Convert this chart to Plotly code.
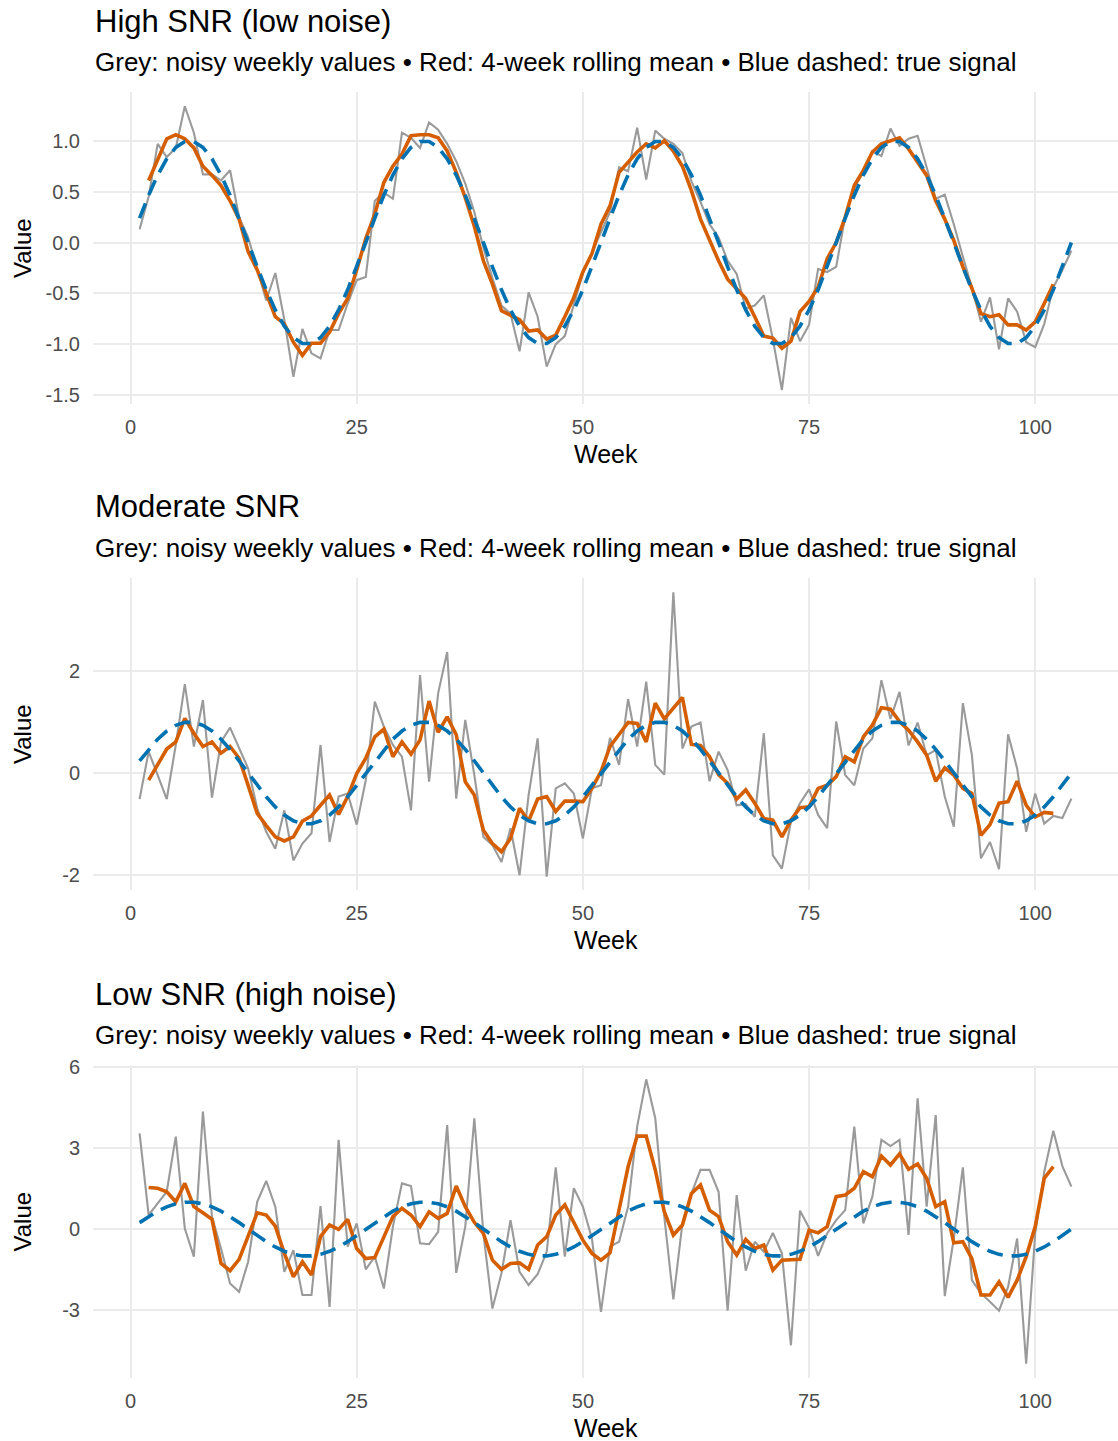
import plotly.graph_objects as go

weeks = list(range(1, 105))

true_signal = [
    0.239, 0.465, 0.663, 0.823, 0.935, 0.993, 0.993, 0.935, 0.823, 0.663, 0.465, 0.239, 0.0,
    -0.239, -0.465, -0.663, -0.823, -0.935, -0.993, -0.993, -0.935, -0.823, -0.663, -0.465, -0.239, 0.0,
    0.239, 0.465, 0.663, 0.823, 0.935, 0.993, 0.993, 0.935, 0.823, 0.663, 0.465, 0.239, 0.0,
    -0.239, -0.465, -0.663, -0.823, -0.935, -0.993, -0.993, -0.935, -0.823, -0.663, -0.465, -0.239, 0.0,
    0.239, 0.465, 0.663, 0.823, 0.935, 0.993, 0.993, 0.935, 0.823, 0.663, 0.465, 0.239, 0.0,
    -0.239, -0.465, -0.663, -0.823, -0.935, -0.993, -0.993, -0.935, -0.823, -0.663, -0.465, -0.239, 0.0,
    0.239, 0.465, 0.663, 0.823, 0.935, 0.993, 0.993, 0.935, 0.823, 0.663, 0.465, 0.239, 0.0,
    -0.239, -0.465, -0.663, -0.823, -0.935, -0.993, -0.993, -0.935, -0.823, -0.663, -0.465, -0.239, 0.0,
]

# ---- High SNR ----
high_noisy = [
    0.13, 0.45, 0.97, 0.84, 0.93, 1.34, 1.08, 0.67, 0.67, 0.61,
    0.71, 0.25, 0.05, -0.27, -0.57, -0.30, -0.76, -1.32, -0.85, -1.09,
    -1.14, -0.86, -0.86, -0.60, -0.37, -0.34, 0.41, 0.49, 0.43, 1.08,
    1.03, 0.93, 1.18, 1.11, 0.97, 0.80, 0.58, 0.30, -0.05, -0.35,
    -0.62, -0.70, -1.07, -0.49, -0.73, -1.22, -1.00, -0.92, -0.62, -0.30,
    -0.10, 0.10, 0.30, 0.74, 0.70, 1.13, 0.62, 1.10, 1.02, 0.97,
    0.88, 0.60, 0.40, 0.18, 0.05, -0.18, -0.31, -0.65, -0.62, -0.52,
    -0.95, -1.45, -0.74, -0.97, -0.81, -0.26, -0.29, -0.24, 0.26, 0.54,
    0.69, 0.90, 0.85, 1.12, 0.95, 1.02, 1.05, 0.74, 0.43, 0.47,
    0.18, -0.14, -0.44, -0.78, -0.54, -1.05, -0.55, -0.68, -0.98, -1.03,
    -0.80, -0.44, -0.27, -0.08,
]
high_roll = [
    None, 0.61, 0.82, 1.02, 1.06, 1.02, 0.93, 0.75, 0.66, 0.56,
    0.41, 0.23, -0.09, -0.27, -0.50, -0.73, -0.80, -0.98, -1.11, -0.99,
    -0.99, -0.88, -0.70, -0.55, -0.27, 0.04, 0.28, 0.59, 0.75, 0.87,
    1.05, 1.06, 1.06, 1.03, 0.90, 0.69, 0.44, 0.16, -0.18, -0.41,
    -0.67, -0.72, -0.76, -0.87, -0.86, -0.95, -0.91, -0.73, -0.54, -0.29,
    -0.11, 0.18, 0.36, 0.69, 0.79, 0.89, 0.97, 0.93, 1.00, 0.90,
    0.75, 0.51, 0.23, 0.02, -0.18, -0.36, -0.45, -0.55, -0.73, -0.92,
    -0.94, -1.04, -0.97, -0.68, -0.58, -0.44, -0.16, 0.00, 0.25, 0.56,
    0.71, 0.89, 0.97, 1.00, 1.03, 0.92, 0.79, 0.66, 0.41, 0.23,
    0.02, -0.24, -0.45, -0.70, -0.73, -0.71, -0.81, -0.81, -0.86, -0.78,
    -0.60, -0.41, None, None,
]

# ---- Moderate SNR ----
mod_noisy = [
    -0.51, 0.42, -0.04, -0.51, 0.55, 1.74, 0.52, 1.43, -0.48, 0.61,
    0.89, 0.48, 0.09, -0.69, -1.15, -1.48, -0.73, -1.71, -1.38, -1.18,
    0.55, -1.35, -0.46, -0.40, -1.01, -0.14, 1.40, 0.91, 0.55, 0.32,
    -0.73, 1.92, -0.17, 1.56, 2.37, -0.50, 1.04, -0.04, -1.25, -1.41,
    -1.74, -1.08, -2.00, -0.43, 0.68, -2.03, -0.30, -0.20, -0.40, -1.28,
    -0.30, -0.24, 0.69, 0.16, 1.45, 0.52, 1.79, 0.16, -0.03, 3.54,
    0.48, 0.91, 0.99, -0.16, 0.42, 0.06, -0.63, -0.61, -0.86, 0.78,
    -1.61, -1.87, -0.95, -0.59, -0.32, -0.82, -1.08, 1.01, -0.04, -0.24,
    0.48, 0.68, 1.82, 1.06, 1.59, 0.54, 0.99, 0.35, 0.45, -0.46,
    -1.05, 1.37, 0.35, -1.67, -1.35, -1.88, 0.76, 0.09, -1.15, -0.40,
    -0.99, -0.84, -0.88, -0.50,
]
mod_roll = [
    None, -0.14, 0.16, 0.47, 0.61, 1.07, 0.78, 0.52, 0.61, 0.39,
    0.52, 0.29, -0.24, -0.79, -1.03, -1.25, -1.33, -1.25, -0.94, -0.84,
    -0.63, -0.43, -0.81, -0.46, -0.01, 0.29, 0.71, 0.86, 0.32, 0.61,
    0.37, 0.65, 1.41, 0.80, 1.10, 0.75, -0.17, -0.43, -1.12, -1.38,
    -1.54, -1.28, -0.69, -0.94, -0.51, -0.46, -0.75, -0.55, -0.55, -0.56,
    -0.30, 0.03, 0.52, 0.76, 0.99, 0.97, 0.61, 1.37, 1.06, 1.27,
    1.48, 0.56, 0.54, 0.32, -0.03, -0.20, -0.51, -0.33, -0.59, -0.89,
    -0.92, -1.25, -0.92, -0.68, -0.66, -0.30, -0.24, -0.07, 0.32, 0.22,
    0.71, 0.94, 1.28, 1.25, 1.01, 0.84, 0.61, 0.35, -0.16, 0.10,
    -0.04, -0.30, -0.40, -1.22, -1.01, -0.59, -0.56, -0.16, -0.63, -0.86,
    -0.77, -0.79, None, None,
]

# ---- Low SNR ----
low_noisy = [
    3.54, 0.52, 0.95, 1.38, 3.42, 0.02, -1.02, 4.35, 0.46, -0.72,
    -2.01, -2.32, -1.21, 1.01, 1.78, 0.83, -1.58, -0.78, -2.44, -2.44,
    0.85, -2.88, 3.30, -0.65, 0.21, -1.49, -1.02, -2.20, 0.09, 1.69,
    1.59, -0.53, -0.56, -0.10, 3.85, -1.62, 0.09, 4.10, -0.16, -2.94,
    -1.64, 0.33, -1.58, -2.07, -1.67, -0.84, 2.28, -1.02, 1.51, 0.83,
    -0.35, -3.06, -0.65, -0.47, 0.83, 3.79, 5.54, 4.10, 0.46, -2.60,
    0.21, 1.32, 2.19, 2.19, 1.38, -3.02, 1.26, -1.54, -0.47, -0.84,
    -0.14, -0.90, -4.30, 0.68, 0.05, -0.99, -0.16, 0.33, 0.70, 3.79,
    0.21, 1.20, 3.30, 3.07, 3.30, -0.22, 4.84, 0.83, 4.22, -2.48,
    -0.35, 2.28, -1.89, -2.38, -2.69, -3.02, -2.14, -0.35, -4.98, -0.16,
    2.12, 3.64, 2.33, 1.57,
]
low_roll = [
    None, 1.54, 1.51, 1.38, 1.01, 1.69, 0.83, 0.60, 0.36, -1.27,
    -1.54, -1.12, -0.28, 0.60, 0.52, 0.11, -0.90, -1.77, -1.21, -1.70,
    -0.28, 0.15, -0.01, 0.36, -0.72, -1.09, -1.05, -0.28, 0.46, 0.77,
    0.52, 0.09, 0.64, 0.40, 0.58, 1.59, 0.83, 0.25, -0.16, -1.15,
    -1.49, -1.27, -1.25, -1.49, -0.59, -0.28, 0.52, 0.89, 0.21, -0.41,
    -0.90, -1.15, -0.88, 0.64, 2.31, 3.44, 3.44, 2.19, 0.64, -0.22,
    0.15, 1.32, 1.63, 0.70, 0.46, -0.47, -0.96, -0.38, -0.72, -0.59,
    -1.52, -1.15, -1.12, -1.12, -0.04, -0.14, 0.09, 1.20, 1.26, 1.51,
    2.12, 1.94, 2.70, 2.37, 2.78, 2.21, 2.41, 1.88, 0.83, 1.01,
    -0.51, -0.47, -1.09, -2.44, -2.44, -1.95, -2.53, -1.89, -1.02, 0.09,
    1.88, 2.31, None, None,
]

titles = ["High SNR (low noise)", "Moderate SNR", "Low SNR (high noise)"]
subtitle = "Grey: noisy weekly values \u2022 Red: 4-week rolling mean \u2022 Blue dashed: true signal"
x_ticks = [0, 25, 50, 75, 100]
y_ticks = [[-1.5, -1.0, -0.5, 0.0, 0.5, 1.0], [-2, 0, 2], [-3, 0, 3, 6]]
y_ticktext = [["-1.5", "-1.0", "-0.5", "0.0", "0.5", "1.0"], ["-2", "0", "2"], ["-3", "0", "3", "6"]]
y_ranges = [[-1.588, 1.48], [-2.29, 3.82], [-5.51, 6.07]]

noisy_sets = [high_noisy, mod_noisy, low_noisy]
roll_sets = [high_roll, mod_roll, low_roll]

W, H = 1118, 1441
ML = 93
panel_px = [(92, 404), (578, 890), (1065, 1378)]  # top, bottom in pixels

FONT = "Liberation Sans, Arial, Helvetica, sans-serif"
GRID = "#EBEBEB"

fig = go.Figure()
layout = dict(
    width=W, height=H,
    margin=dict(l=ML, r=0, t=0, b=0),
    paper_bgcolor="white", plot_bgcolor="white",
    showlegend=False,
    font=dict(family=FONT, color="black"),
    template="none",
)
annotations = []

def py(px):
    return 1 - px / H

def pxx(px):
    return (px - ML) / (W - ML)

for i in range(3):
    xa = "x" if i == 0 else f"x{i+1}"
    ya = "y" if i == 0 else f"y{i+1}"
    top, bot = panel_px[i]
    fig.add_trace(go.Scatter(x=weeks, y=noisy_sets[i], mode="lines",
                             line=dict(color="#9A9A9A", width=2.1),
                             xaxis=xa, yaxis=ya, hoverinfo="skip"))
    fig.add_trace(go.Scatter(x=weeks, y=roll_sets[i], mode="lines",
                             line=dict(color="#D55E00", width=3.6),
                             xaxis=xa, yaxis=ya, connectgaps=False, hoverinfo="skip"))
    fig.add_trace(go.Scatter(x=weeks, y=true_signal, mode="lines",
                             line=dict(color="#0072B2", width=3.6, dash="16px,9px"),
                             xaxis=xa, yaxis=ya, hoverinfo="skip"))
    xkey = "xaxis" if i == 0 else f"xaxis{i+1}"
    ykey = "yaxis" if i == 0 else f"yaxis{i+1}"
    layout[xkey] = dict(
        domain=[0, 1], anchor=ya, range=[-4.15, 109.15],
        tickvals=x_ticks, ticktext=[str(v) for v in x_ticks],
        showgrid=True, gridcolor=GRID, gridwidth=2,
        zeroline=False, showline=False,
        ticks="outside", ticklen=5, tickcolor="rgba(0,0,0,0)",
        tickfont=dict(size=20, color="#4D4D4D", family=FONT),
        automargin=False, fixedrange=True,
    )
    layout[ykey] = dict(
        domain=[py(bot), py(top)], anchor=xa, range=y_ranges[i],
        tickvals=y_ticks[i], ticktext=y_ticktext[i],
        showgrid=True, gridcolor=GRID, gridwidth=2,
        zeroline=False, showline=False,
        ticks="outside", ticklen=8, tickcolor="rgba(0,0,0,0)",
        tickfont=dict(size=20, color="#4D4D4D", family=FONT),
        automargin=False, fixedrange=True,
    )
    annotations.append(dict(text=titles[i], xref="paper", yref="paper",
                            x=0, y=py(top - 71), xanchor="left", yanchor="middle",
                            showarrow=False, font=dict(size=31, color="black", family=FONT)))
    annotations.append(dict(text=subtitle, xref="paper", yref="paper",
                            x=0, y=py(top - 30), xanchor="left", yanchor="middle",
                            showarrow=False, font=dict(size=26, color="black", family=FONT)))
    annotations.append(dict(text="Week", xref="paper", yref="paper",
                            x=0.5, y=py(bot + 50), xanchor="center", yanchor="middle",
                            showarrow=False, font=dict(size=25, color="black", family=FONT)))
    annotations.append(dict(text="Value", xref="paper", yref="paper",
                            x=pxx(22), y=py((top + bot) / 2), xanchor="center", yanchor="middle",
                            textangle=-90, showarrow=False,
                            font=dict(size=24, color="black", family=FONT)))

layout["annotations"] = annotations
fig.update_layout(**layout)
fig.write_html("out.html")
